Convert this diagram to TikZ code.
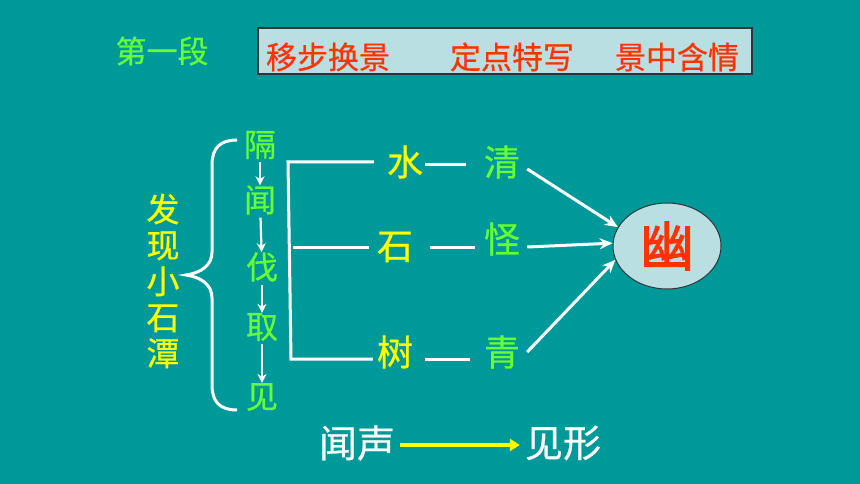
\documentclass[tikz,border=0pt]{standalone}
\usepackage{fontspec}
\newfontfamily\cjk[FakeBold=0.6]{Noto Sans CJK SC}
\newfontfamily\cjkheavy[FakeBold=2]{Noto Sans CJK SC}
\usetikzlibrary{arrows.meta,shapes.geometric}
\definecolor{bgteal}{RGB}{0,153,153}
\definecolor{leafgreen}{RGB}{102,255,51}
\definecolor{pageyellow}{RGB}{255,255,0}
\definecolor{titlered}{RGB}{255,51,0}
\definecolor{boxblue}{RGB}{186,223,226}
\definecolor{rimgray}{RGB}{45,55,55}
\begin{document}
\begin{tikzpicture}[x=1pt,y=-1pt,
    every node/.style={inner sep=0pt,font=\cjk},
    tip/.style={font=\cjk\fontsize{31}{31}\selectfont,text=titlered},
    walk/.style={font=\cjk\fontsize{32}{32}\selectfont,text=leafgreen},
    thing/.style={font=\cjk\fontsize{36}{36}\selectfont,text=pageyellow},
    trait/.style={font=\cjk\fontsize{36}{36}\selectfont,text=leafgreen},
    tail/.style={font=\cjk\fontsize{38}{38}\selectfont,text=white},
    link/.style={draw=white,line width=3pt},
    hop/.style={white,line width=2.2pt,-{Stealth[length=9pt,width=9pt]},shorten <=3pt,shorten >=0pt},
    flow/.style={white,line width=3pt,-{Stealth[length=13pt,width=11pt]}},
    sound/.style={pageyellow,line width=4pt,-{Triangle[length=10pt,width=12pt]}}]
  \useasboundingbox (0,0) rectangle (860,484);
  \fill[bgteal] (0,0) rectangle (860,484);
  % heading
  \node[font=\cjk\fontsize{31}{31}\selectfont,text=leafgreen] (part) at (162,51) {第一段};
  \node[draw=rimgray,line width=1.2pt,fill=boxblue,minimum width=494pt,minimum height=46pt] (banner) at (505,51) {};
  \draw
    (328,57) node[tip] (move){移步换景}
    (512,57) node[tip] (fix){定点特写}
    (677,57) node[tip] (feel){景中含情};
  % left side
  \node[font=\cjk\fontsize{33}{36}\selectfont,text=pageyellow,align=center] (find) at (163,281) {发\\现\\小\\石\\潭};
  \draw[white,line width=3pt] (237,140) .. controls (220,140) and (212,148) .. (212,165)
    -- (212,252) .. controls (212,266) and (200,273) .. (186,275)
    .. controls (200,277) and (212,284) .. (212,298)
    -- (212,385) .. controls (212,402) and (220,410) .. (237,410);
  \draw
    (260,145) node[walk] (ge){隔}
    (260,200) node[walk] (wen){闻}
    (262,267) node[walk] (fa){伐}
    (262,327) node[walk] (qu){取}
    (262,397) node[walk] (jian){见};
  \begin{scope}[hop]
    \draw (ge) to (wen);
    \draw (wen) to (fa);
    \draw (fa) to (qu);
    \draw (qu) to (jian);
  \end{scope}
  % middle
  \draw
    (405,162) node[thing] (shui){水}
    (395,247) node[thing] (shi){石}
    (395,352) node[thing] (shu){树}
    (502,162) node[trait] (qing){清}
    (502,239) node[trait] (guai){怪}
    (502,352) node[trait] (qingse){青};
  \coordinate (topcorner) at (288,162);
  \coordinate (lowcorner) at (291,359);
  \coordinate (midfoot) at (293,247);
  \draw[link] ([xshift=-13pt]shui.west) -- (topcorner) -- (lowcorner) -- ([xshift=-4pt,yshift=-7pt]shu.west);
  \draw[link] (midfoot) -- ([xshift=-8pt]shi.west);
  \draw[link] ([xshift=2pt,yshift=-3pt]shui.east) -- ([xshift=-18pt,yshift=-3pt]qing.west);
  \draw[link] ([xshift=17pt]shi.east) -- ([xshift=-9pt,yshift=-8pt]guai.west);
  \draw[link] ([xshift=12pt,yshift=-7pt]shu.east) -- ([xshift=-14pt,yshift=-7pt]qingse.west);
  % right
  \node[ellipse,draw=rimgray,line width=1pt,fill=boxblue,minimum width=108pt,minimum height=86pt,
    font=\cjkheavy\fontsize{54}{54}\selectfont,text=titlered] (you) at (667,246) {幽};
  \draw[flow] ([xshift=7pt,yshift=-7pt]qing.east) -- (you.159);
  \draw[flow] ([xshift=7pt,yshift=-8pt]guai.east) -- (you.177);
  \draw[flow] ([xshift=7pt]qingse.east) -- (you.195);
  % bottom
  \draw
    (357,443) node[tail] (wensheng){闻声}
    (563,443) node[tail] (jianxing){见形};
  \draw[sound] ([xshift=5pt,yshift=-2pt]wensheng.east) -- ([xshift=-5pt,yshift=-2pt]jianxing.west);
\end{tikzpicture}
\end{document}
